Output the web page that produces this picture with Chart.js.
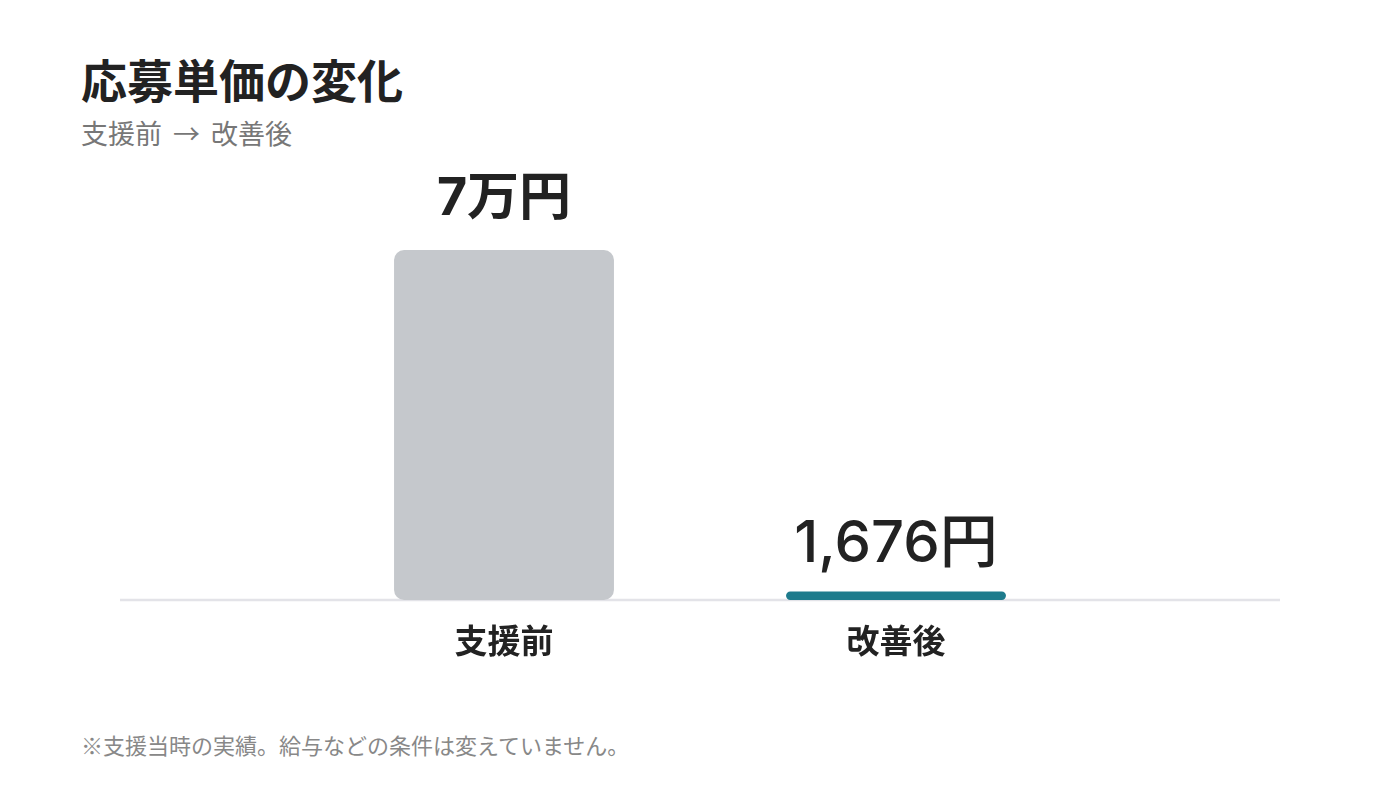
<!DOCTYPE html>
<html lang="ja">
<head>
<meta charset="utf-8">
<title>応募単価の変化</title>
<script src="https://cdn.jsdelivr.net/npm/chart.js@4"></script>
<style>
  html, body { margin: 0; padding: 0; background: #fff; }
  body { width: 1400px; height: 788px; position: relative; overflow: hidden;
         font-family: "Noto Sans CJK JP", "Noto Sans", sans-serif; color: #222; }
  #title { position: absolute; left: 81px; top: 55px; margin: 0; font-size: 46px; font-weight: 700; line-height: 1; }
  #subtitle { position: absolute; left: 81px; top: 119px; margin: 0; font-size: 27px; font-weight: 400; color: #777;
              line-height: 1; word-spacing: 5px; }
  #note { position: absolute; left: 81px; top: 733px; margin: 0; font-size: 22px; color: #888; line-height: 1; }
  #wrap { position: absolute; left: 120px; top: 160px; width: 1160px; height: 560px; }
</style>
</head>
<body>
<h1 id="title">応募単価の変化</h1>
<p id="subtitle">支援前 → 改善後</p>
<div id="wrap"><canvas id="myChart"></canvas></div>
<p id="note">※支援当時の実績。給与などの条件は変えていません。</p>

<script>
/* data */
const categories = ['支援前', '改善後']
const costValues = [70000, 1676]
const valueLabels = ['7万円', '1,676円']
const yMax = 70000

/* styles */
const barColors = ['#c5c8cc', '#1e7b8c']
const labelFonts = ['700 52px Inter, "Noto Sans CJK JP"', '500 58px Inter, "Noto Sans CJK JP"']
const labelGaps = [35, 30]

/* baseline across the whole canvas width */
const baseLine = {
  id: 'baseLine',
  beforeDatasetsDraw(chart) {
    const ctx = chart.ctx
    const y = chart.chartArea.bottom
    ctx.save()
    ctx.strokeStyle = '#e3e3e8'
    ctx.lineWidth = 2.5
    ctx.beginPath()
    ctx.moveTo(0, y)
    ctx.lineTo(chart.width, y)
    ctx.stroke()
    ctx.restore()
  }
}

/* value text above each bar */
const valueText = {
  id: 'valueText',
  afterDatasetsDraw(chart) {
    const ctx = chart.ctx
    const meta = chart.getDatasetMeta(0)
    ctx.save()
    ctx.fillStyle = '#222'
    ctx.textAlign = 'center'
    ctx.textBaseline = 'alphabetic'
    meta.data.forEach((bar, i) => {
      ctx.font = labelFonts[i]
      ctx.fillText(valueLabels[i], bar.x, bar.y - labelGaps[i])
    })
    ctx.restore()
  }
}

const data = {
  labels: categories,
  datasets: [{
    data: costValues,
    backgroundColor: barColors,
    borderRadius: 10,
    borderSkipped: false,
    categoryPercentage: 1,
    barPercentage: 0.561
  }]
}

const config = {
  type: 'bar',
  data: data,
  options: {
    responsive: true,
    maintainAspectRatio: false,
    animation: false,
    layout: { padding: { top: 90, left: 188, right: 188, bottom: 0 } },
    plugins: { legend: { display: false }, tooltip: { enabled: false } },
    scales: {
      y: { display: false, min: 0, max: yMax },
      x: {
        grid: { display: false, drawTicks: false },
        border: { display: false },
        ticks: {
          color: '#222',
          padding: 21,
          font: { family: '"Noto Sans CJK JP"', size: 33, weight: '700' }
        },
        afterFit: (scale) => { scale.height = 120 }
      }
    }
  },
  plugins: [baseLine, valueText]
}

const myChart = new Chart(document.getElementById('myChart'), config)
</script>
</body>
</html>
